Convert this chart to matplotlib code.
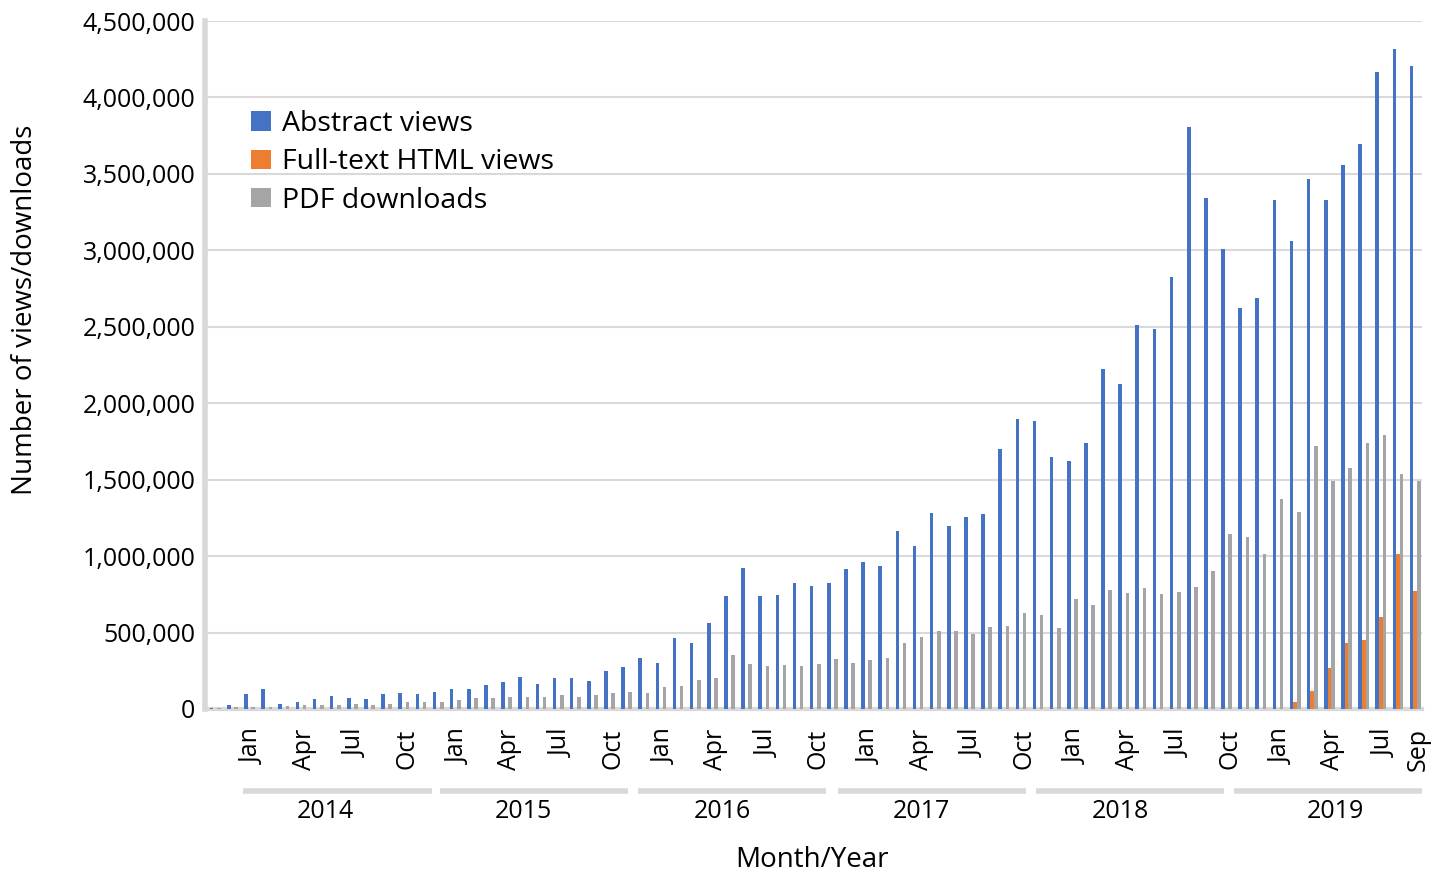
import matplotlib
matplotlib.use("Agg")
import matplotlib.pyplot as plt
import matplotlib.transforms as mtransforms
import numpy as np

plt.rcParams['font.family'] = ['Open Sans', 'DejaVu Sans']

months = ["Nov", "Dec"] + ["Jan", "Feb", "Mar", "Apr", "May", "Jun", "Jul", "Aug", "Sep", "Oct", "Nov", "Dec"] * 5 + \
         ["Jan", "Feb", "Mar", "Apr", "May", "Jun", "Jul", "Aug", "Sep"]
years = ["2014", "2015", "2016", "2017", "2018", "2019"]

abstract_views = [
    8000, 28000,
    98000, 131000, 35000, 45000, 65000, 83000, 74000, 65000, 98000, 107000, 100000, 111000,
    129000, 129000, 159000, 177000, 209000, 161000, 200000, 200000, 183000, 248000, 272000, 331000,
    303000, 464000, 432000, 562000, 737000, 922000, 737000, 746000, 826000, 802000, 826000, 913000,
    961000, 937000, 1162000, 1066000, 1282000, 1195000, 1258000, 1273000, 1698000, 1897000, 1883000, 1647000,
    1624000, 1738000, 2227000, 2123000, 2511000, 2486000, 2825000, 3809000, 3342000, 3010000, 2620000, 2686000,
    3326000, 3060000, 3468000, 3331000, 3557000, 3694000, 4168000, 4314000, 4208000,
]
fulltext_html = [0] * 63 + [43000, 120000, 266000, 431000, 449000, 603000, 1014000, 771000]
pdf_downloads = [
    5000, 10000,
    11000, 11000, 17000, 26000, 26000, 26000, 33000, 26000, 33000, 44000, 48000, 46000,
    57000, 72000, 72000, 81000, 81000, 81000, 89000, 81000, 89000, 102000, 111000, 102000,
    146000, 153000, 192000, 200000, 353000, 296000, 279000, 288000, 279000, 296000, 329000, 303000,
    320000, 336000, 432000, 473000, 512000, 512000, 488000, 536000, 545000, 626000, 616000, 527000,
    722000, 682000, 778000, 760000, 793000, 755000, 768000, 801000, 900000, 1143000, 1126000, 1014000,
    1374000, 1286000, 1720000, 1494000, 1577000, 1740000, 1791000, 1540000, 1494000,
]
series_names = ["Abstract views", "Full-text HTML views", "PDF downloads"]
colors = ["#4472C4", "#ED7D31", "#A5A5A5"]

W, H = 1438, 874
fig = plt.figure(figsize=(W / 100, H / 100), dpi=100)
ax = fig.add_axes([205 / W, 1 - 709 / H, (1422 - 205) / W, (709 - 21) / H])

x = np.arange(len(months))
bw = 0.21
handles = []
for k, (vals, c, name) in enumerate(zip([abstract_views, fulltext_html, pdf_downloads], colors, series_names)):
    h = ax.bar(x + (k - 1) * bw + 0.1, vals, width=bw, color=c, label=name, zorder=3, linewidth=0)
    handles.append(h)

ax.set_xlim(-0.5, len(months) - 0.5)
ax.set_ylim(0, 4500000)
ax.set_yticks(np.arange(0, 4500001, 500000))
ax.set_yticklabels([f"{int(v):,}" for v in np.arange(0, 4500001, 500000)], fontsize=18)
ax.yaxis.grid(True, color="#d9d9d9", linewidth=1.5, zorder=0)
ax.set_axisbelow(True)
for s in ["top", "right"]:
    ax.spines[s].set_visible(False)
ax.spines["left"].set_color("#d9d9d9")
ax.spines["left"].set_linewidth(4)
ax.spines["bottom"].set_color("#d9d9d9")
ax.spines["bottom"].set_linewidth(3)
ax.tick_params(axis="y", length=0, pad=7)
ax.tick_params(axis="x", length=0, pad=14)

tick_idx = [i for i in range(len(months)) if months[i] in ("Jan", "Apr", "Jul", "Oct")] + [len(months) - 1]
ax.set_xticks(tick_idx)
ax.set_xticklabels([months[i] for i in tick_idx], rotation=90, fontsize=18, va="top")
shift = mtransforms.ScaledTranslation(5 / 100, 0, fig.dpi_scale_trans)
for lbl in ax.get_xticklabels():
    lbl.set_transform(lbl.get_transform() + shift)

# year brackets and labels
bracket_px = [(243, 432), (440, 628), (638, 826), (838, 1026), (1036, 1224), (1234, 1422)]
year_label_px = [325, 523, 722, 921, 1120, 1335]
for (a, b), lx, yr in zip(bracket_px, year_label_px, years):
    fig.add_artist(plt.Line2D([a / W, b / W], [1 - 791 / H, 1 - 791 / H], color="#d9d9d9",
                              linewidth=4, solid_capstyle="butt"))
    fig.text(lx / W, 1 - 811 / H, yr, ha="center", va="center", fontsize=18)

fig.text(812 / W, 1 - 860 / H, "Month/Year", ha="center", va="center", fontsize=20)
fig.text(25 / W, 1 - 310 / H, "Number of views/downloads", ha="center", va="center",
         rotation=90, fontsize=20)

leg = ax.legend(handles=handles, loc="upper left", bbox_to_anchor=(0.0288, 0.887), frameon=False,
                fontsize=20.5, handlelength=0.68, handleheight=0.68, handletextpad=0.4,
                labelspacing=0.36, borderaxespad=0)

fig.savefig("out.png", dpi=100, facecolor="white")
